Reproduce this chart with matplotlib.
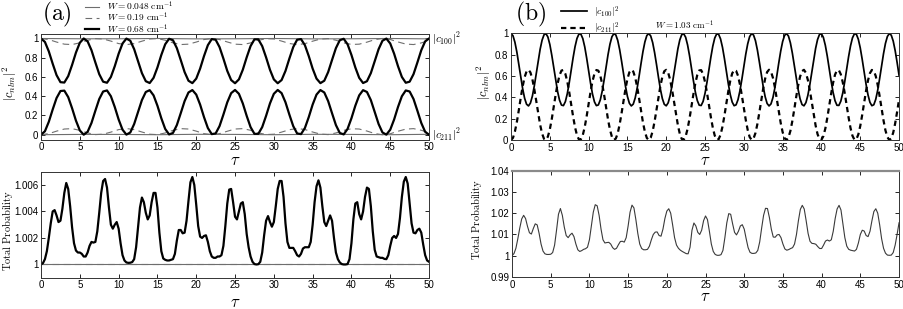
import numpy as np
import matplotlib
matplotlib.use("Agg")
import matplotlib.pyplot as plt
from matplotlib.ticker import FormatStrFormatter
from matplotlib.transforms import blended_transform_factory

plt.rcParams['font.family'] = ['Liberation Sans', 'DejaVu Sans']
plt.rcParams['mathtext.fontset'] = 'cm'

# sample times (tau)
tau_q = np.linspace(0, 50, 201)   # every 0.25
tau_h = np.linspace(0, 50, 101)   # every 0.5
tau_1 = np.linspace(0, 50, 51)    # every 1
tau_5 = np.linspace(0, 50, 11)    # every 5

# ---- panel (a), top: |c100|^2 (upper) and |c211|^2 (lower) ----
a_up_thick = [1.000, 0.964, 0.866, 0.738, 0.619, 0.546, 0.542, 0.609, 0.725, 0.854,
              0.956, 1.000, 0.970, 0.878, 0.751, 0.629, 0.551, 0.540, 0.600, 0.712,
              0.842, 0.948, 0.999, 0.977, 0.889, 0.764, 0.640, 0.556, 0.537, 0.591,
              0.699, 0.829, 0.940, 0.997, 0.982, 0.900, 0.777, 0.651, 0.561, 0.536,
              0.583, 0.687, 0.817, 0.931, 0.994, 0.987, 0.911, 0.791, 0.663, 0.568,
              0.535, 0.575, 0.675, 0.804, 0.921, 0.991, 0.991, 0.921, 0.804, 0.675,
              0.575, 0.535, 0.568, 0.663, 0.791, 0.911, 0.987, 0.994, 0.931, 0.817,
              0.687, 0.583, 0.536, 0.561, 0.651, 0.777, 0.900, 0.982, 0.997, 0.940,
              0.829, 0.699, 0.591, 0.537, 0.556, 0.640, 0.764, 0.889, 0.977, 0.999,
              0.948, 0.842, 0.712, 0.600, 0.540, 0.551, 0.629, 0.751, 0.878, 0.970,
              1.000]
a_low_thick = [0.000, 0.036, 0.134, 0.262, 0.381, 0.454, 0.458, 0.391, 0.275, 0.146,
               0.044, 0.000, 0.030, 0.122, 0.249, 0.371, 0.449, 0.460, 0.400, 0.288,
               0.158, 0.052, 0.001, 0.023, 0.111, 0.236, 0.360, 0.444, 0.463, 0.409,
               0.301, 0.171, 0.060, 0.003, 0.018, 0.100, 0.223, 0.349, 0.439, 0.464,
               0.417, 0.313, 0.183, 0.069, 0.006, 0.013, 0.089, 0.209, 0.337, 0.432,
               0.465, 0.425, 0.325, 0.196, 0.079, 0.009, 0.009, 0.079, 0.196, 0.325,
               0.425, 0.465, 0.432, 0.337, 0.209, 0.089, 0.013, 0.006, 0.069, 0.183,
               0.313, 0.417, 0.464, 0.439, 0.349, 0.223, 0.100, 0.018, 0.003, 0.060,
               0.171, 0.301, 0.409, 0.463, 0.444, 0.360, 0.236, 0.111, 0.023, 0.001,
               0.052, 0.158, 0.288, 0.400, 0.460, 0.449, 0.371, 0.249, 0.122, 0.030,
               0.000]
a_up_dash = [1.000, 0.989, 0.963, 0.941, 0.937, 0.955, 0.981, 0.999, 0.995, 0.973,
             0.947, 0.936, 0.947, 0.972, 0.995, 0.999, 0.982, 0.955, 0.937, 0.941,
             0.963, 0.989, 1.000, 0.989, 0.964, 0.941, 0.937, 0.954, 0.981, 0.998,
             0.995, 0.973, 0.948, 0.936, 0.946, 0.972, 0.994, 0.999, 0.982, 0.955,
             0.938, 0.941, 0.962, 0.988, 1.000, 0.990, 0.964, 0.942, 0.937, 0.954,
             0.980]
a_low_dash = [0.000, 0.011, 0.037, 0.059, 0.063, 0.045, 0.019, 0.001, 0.005, 0.027,
              0.053, 0.064, 0.053, 0.028, 0.005, 0.001, 0.018, 0.045, 0.063, 0.059,
              0.037, 0.011, 0.000, 0.011, 0.036, 0.059, 0.063, 0.046, 0.019, 0.002,
              0.005, 0.027, 0.052, 0.064, 0.054, 0.028, 0.006, 0.001, 0.018, 0.045,
              0.062, 0.059, 0.038, 0.012, 0.000, 0.010, 0.036, 0.058, 0.063, 0.046,
              0.020]
a_up_thin = [1.000, 0.997, 0.997, 1.000, 0.996, 0.997, 1.000, 0.996, 0.997, 1.000, 0.996]
a_low_thin = [0.000, 0.003, 0.003, 0.000, 0.004, 0.003, 0.000, 0.004, 0.003, 0.000, 0.004]

# ---- panel (a), bottom: total probability, excess over 1 in units of 1e-4 ----
a_tot_thick = [0, 1, 4, 10, 20, 31, 40, 41, 37, 32, 33, 42, 54, 61.5, 57, 44,
               28, 16, 10.5, 9, 9, 8, 6, 6, 9, 14, 17, 16.5, 17, 25, 39, 54,
               63, 64.5, 58, 43, 30, 27, 30, 32, 27, 16, 7, 3, 1.5, 1.2, 1.3, 1.8,
               4, 13, 28, 43, 50.5, 47, 39, 34, 37, 47, 54, 54, 43, 24, 10, 4.5,
               3.5, 3, 3, 3.5, 4, 8, 18, 26, 26, 23.5, 24, 33, 48, 62, 66, 60,
               45, 29, 21, 20, 21.5, 22, 17, 10, 6, 5, 5, 6, 6, 7, 14, 29,
               46, 56.5, 57, 47, 36, 34, 40, 46, 47, 38, 23, 13, 6, 2, 0.3, 0,
               0.2, 2, 9, 22, 33, 36.5, 32, 28.5, 32, 44, 57, 63, 63, 51, 31, 17,
               12.5, 12.5, 12.5, 10, 7, 6, 8, 12, 13, 13, 13, 17, 30, 47, 59, 63.5,
               58, 44, 32, 29, 33, 37, 33, 20, 9, 4, 1.5, 0.3, 0, 0, 0.3, 4,
               16, 34, 46, 47, 38, 34, 40, 51, 58, 57, 44, 25, 11, 6, 5.5, 5,
               5, 4.2, 4, 7, 14, 20, 21.5, 20, 23, 35, 51, 62.5, 66, 61, 46, 31,
               24, 23.5, 26, 27, 24, 15, 7, 3, 2]
a_tot_dash = [1.0, 1.0, 1.0, 1.0, 1.0, 1.0, 1.0, 1.0, 1.0, 1.0, 1.0]
a_tot_thin = [1.0, 1.0, 1.0, 1.0, 1.0, 1.0, 1.0, 1.0, 1.0, 1.0, 1.0]

# ---- panel (b), top ----
b_c100 = [1.000, 0.979, 0.918, 0.826, 0.712, 0.592, 0.481, 0.392, 0.336, 0.320,
          0.347, 0.412, 0.508, 0.623, 0.743, 0.852, 0.937, 0.988, 0.999, 0.967,
          0.897, 0.797, 0.681, 0.562, 0.455, 0.374, 0.328, 0.323, 0.360, 0.435,
          0.537, 0.655, 0.773, 0.877, 0.954, 0.995, 0.994, 0.952, 0.874, 0.768,
          0.650, 0.532, 0.431, 0.358, 0.323, 0.329, 0.376, 0.459, 0.566, 0.686,
          0.802, 0.900, 0.969, 0.999, 0.987, 0.935, 0.848, 0.738, 0.619, 0.504,
          0.409, 0.345, 0.320, 0.337, 0.395, 0.485, 0.597, 0.717, 0.830, 0.921,
          0.981, 1.000, 0.977, 0.915, 0.821, 0.708, 0.588, 0.477, 0.389, 0.335,
          0.321, 0.349, 0.416, 0.513, 0.628, 0.747, 0.856, 0.940, 0.989, 0.998,
          0.965, 0.893, 0.793, 0.676, 0.558, 0.451, 0.371, 0.327, 0.324, 0.362,
          0.438, 0.541, 0.659, 0.777, 0.881, 0.957, 0.996, 0.993, 0.949, 0.870,
          0.764, 0.645, 0.528, 0.427, 0.356, 0.322, 0.330, 0.379, 0.463, 0.571,
          0.691, 0.806, 0.903, 0.971, 0.999, 0.986, 0.932, 0.844, 0.733, 0.614,
          0.500, 0.406, 0.343, 0.320, 0.339, 0.398, 0.489, 0.602, 0.722, 0.834,
          0.924, 0.982, 1.000, 0.976, 0.912, 0.817, 0.703, 0.583, 0.473, 0.386,
          0.333, 0.321, 0.351, 0.419, 0.517, 0.633, 0.752, 0.860, 0.943, 0.991,
          0.998, 0.963, 0.890, 0.789, 0.672, 0.553, 0.448, 0.369, 0.326, 0.325,
          0.365, 0.442, 0.546, 0.664, 0.782, 0.884, 0.959, 0.997, 0.993, 0.947,
          0.866, 0.759, 0.640, 0.524, 0.424, 0.354, 0.322, 0.331, 0.382, 0.467,
          0.576, 0.695, 0.810, 0.907, 0.972, 1.000, 0.984, 0.929, 0.840, 0.729,
          0.609]
b_c211 = [0.000, 0.020, 0.080, 0.169, 0.279, 0.396, 0.504, 0.590, 0.644, 0.660,
          0.634, 0.571, 0.477, 0.366, 0.249, 0.144, 0.061, 0.011, 0.001, 0.032,
          0.100, 0.197, 0.310, 0.425, 0.529, 0.608, 0.652, 0.657, 0.621, 0.549,
          0.449, 0.335, 0.220, 0.119, 0.044, 0.005, 0.006, 0.047, 0.123, 0.225,
          0.340, 0.454, 0.552, 0.623, 0.657, 0.651, 0.605, 0.525, 0.421, 0.305,
          0.192, 0.097, 0.030, 0.001, 0.013, 0.063, 0.148, 0.254, 0.370, 0.481,
          0.574, 0.636, 0.660, 0.643, 0.587, 0.500, 0.391, 0.275, 0.165, 0.077,
          0.019, 0.000, 0.022, 0.083, 0.174, 0.284, 0.400, 0.508, 0.593, 0.646,
          0.659, 0.632, 0.567, 0.473, 0.361, 0.245, 0.140, 0.058, 0.010, 0.002,
          0.034, 0.104, 0.201, 0.314, 0.429, 0.533, 0.610, 0.653, 0.656, 0.619,
          0.545, 0.445, 0.331, 0.216, 0.116, 0.042, 0.004, 0.007, 0.049, 0.126,
          0.229, 0.345, 0.458, 0.556, 0.625, 0.658, 0.650, 0.603, 0.521, 0.416,
          0.300, 0.188, 0.094, 0.028, 0.001, 0.014, 0.066, 0.151, 0.259, 0.375,
          0.485, 0.577, 0.638, 0.660, 0.642, 0.584, 0.496, 0.386, 0.270, 0.161,
          0.074, 0.017, 0.000, 0.024, 0.085, 0.178, 0.288, 0.405, 0.512, 0.596,
          0.647, 0.659, 0.630, 0.564, 0.469, 0.356, 0.241, 0.136, 0.055, 0.009,
          0.002, 0.036, 0.107, 0.205, 0.319, 0.434, 0.536, 0.613, 0.654, 0.655,
          0.616, 0.542, 0.441, 0.326, 0.212, 0.112, 0.040, 0.003, 0.007, 0.051,
          0.130, 0.234, 0.349, 0.462, 0.559, 0.627, 0.658, 0.649, 0.600, 0.517,
          0.412, 0.296, 0.184, 0.090, 0.027, 0.000, 0.015, 0.069, 0.155, 0.263,
          0.380]

# ---- panel (b), bottom: total probability, excess over 1 in units of 1e-3 ----
b_tot = [0.0, 1.0, 3.5, 8.0, 13.0, 17.3, 19.0, 17.5, 13.8, 10.8, 10.2, 12.8,
         15.0, 14.5, 10.5, 5.5, 2.2, 0.9, 0.6, 0.6, 0.7, 1.5, 5.0, 12.0,
         19.5, 22.2, 19.0, 13.5, 9.5, 8.5, 9.8, 10.6, 9.0, 5.5, 2.8, 2.0,
         2.4, 3.0, 3.3, 4.0, 7.5, 14.0, 20.5, 24.0, 23.5, 19.0, 12.5, 7.5,
         6.0, 6.2, 6.3, 5.5, 3.8, 3.0, 3.5, 5.2, 6.7, 6.8, 6.4, 8.5,
         14.0, 20.5, 23.8, 22.5, 17.0, 10.5, 5.5, 3.4, 2.8, 2.8, 3.0, 4.5,
         7.5, 10.0, 11.1, 11.2, 9.5, 9.2, 12.5, 17.5, 21.0, 22.1, 20.0, 14.5,
         8.5, 5.0, 3.5, 2.6, 2.0, 1.5, 1.0, 0.9, 4.0, 12.0, 15.4, 14.0,
         11.0, 10.0, 12.0, 16.5, 18.7, 17.0, 11.5, 5.5, 2.0, 0.6, 0.2, 0.2,
         0.5, 2.5, 8.5, 15.5, 19.8, 19.5, 15.0, 11.0, 9.8, 11.5, 14.0, 14.6,
         12.5, 8.0, 3.8, 1.6, 1.1, 1.1, 1.3, 2.5, 6.5, 13.0, 19.0, 22.3,
         22.2, 18.0, 12.5, 8.8, 8.7, 9.8, 10.0, 8.5, 5.5, 3.2, 2.6, 2.9,
         3.4, 3.8, 5.5, 10.0, 16.5, 21.8, 23.7, 22.0, 16.5, 10.5, 6.8, 5.8,
         5.7, 5.4, 4.3, 3.4, 3.4, 5.0, 6.9, 7.4, 6.9, 7.5, 11.5, 17.5,
         22.0, 23.7, 21.5, 15.0, 8.5, 4.5, 3.0, 2.6, 2.4, 2.2, 3.0, 6.0,
         10.0, 12.0, 11.6, 9.5, 9.0, 11.5, 16.5, 20.8, 22.1, 20.0, 14.5, 8.0,
         3.5, 1.2, 0.3, 0.2, 0.3, 1.5, 5.0, 10.0, 15.5]

GRAY = '#6e6e6e'


def style(ax):
    ax.set_xlim(0, 50)
    ax.set_xticks(range(0, 51, 5))
    ax.tick_params(direction='in', top=True, right=True, length=3, width=0.6,
                   labelsize=7, pad=2)
    ax.xaxis.set_major_formatter(FormatStrFormatter('%g'))
    ax.yaxis.set_major_formatter(FormatStrFormatter('%g'))
    for s in ax.spines.values():
        s.set_linewidth(0.7)
        s.set_color('#333333')


fig = plt.figure(figsize=(9.04, 3.09), dpi=100)
axA1 = fig.add_axes([0.0454, 0.5485, 0.4292, 0.3425])
axA2 = fig.add_axes([0.0454, 0.1013, 0.4292, 0.3430])
axB1 = fig.add_axes([0.5653, 0.5469, 0.4292, 0.3447])
axB2 = fig.add_axes([0.5664, 0.1036, 0.4281, 0.3440])

# (a) top
l_thin, = axA1.plot(tau_5, a_up_thin, color=GRAY, lw=0.8,
                    label=r'$W = 0.048\ \mathrm{cm}^{-1}$')
axA1.plot(tau_5, a_low_thin, color=GRAY, lw=0.8)
l_dash, = axA1.plot(tau_1, a_up_dash, color=GRAY, lw=0.8, dashes=(6, 4),
                    label=r'$W = 0.19\ \mathrm{cm}^{-1}$')
axA1.plot(tau_1, a_low_dash, color=GRAY, lw=0.8, dashes=(6, 4))
l_thick, = axA1.plot(tau_h, a_up_thick, color='black', lw=1.6,
                     label=r'$W = 0.68\ \mathrm{cm}^{-1}$')
axA1.plot(tau_h, a_low_thick, color='black', lw=1.6)
style(axA1)
axA1.set_ylim(-0.05, 1.05)
axA1.set_yticks([0, 0.2, 0.4, 0.6, 0.8, 1])
axA1.set_xlabel(r'$\tau$', fontsize=12)
axA1.xaxis.set_label_coords(0.5, -0.13)
axA1.set_ylabel(r'$|c_{nlm}|^2$', fontsize=9)
axA1.yaxis.set_label_coords(-0.058, 0.53)
axA1.legend(handles=[l_thin, l_dash, l_thick], loc='upper left',
            bbox_to_anchor=(85 / 904, 1.0), bbox_transform=fig.transFigure,
            fontsize=6.8, frameon=False, handlelength=1.5, handletextpad=0.8,
            labelspacing=-0.25, borderpad=0, borderaxespad=0)
trA = blended_transform_factory(axA1.transAxes, axA1.transData)
axA1.text(1.008, 1.0, r'$|c_{100}|^2$', transform=trA, fontsize=8, va='center')
axA1.text(1.008, 0.0, r'$|c_{211}|^2$', transform=trA, fontsize=8, va='center')

# (a) bottom
axA2.plot(tau_5, a_tot_thin, color=GRAY, lw=0.8)
axA2.plot(tau_5, a_tot_dash, color=GRAY, lw=0.8, dashes=(6, 4))
axA2.plot(tau_q, 1 + np.array(a_tot_thick) * 1e-4, color='black', lw=1.6)
style(axA2)
axA2.set_ylim(0.999, 1.007)
axA2.set_yticks([1, 1.002, 1.004, 1.006])
axA2.set_xlabel(r'$\tau$', fontsize=12)
axA2.xaxis.set_label_coords(0.5, -0.16)
axA2.set_ylabel(r'$\mathrm{Total\ Probability}$', fontsize=7.5)
axA2.yaxis.set_label_coords(-0.066, 0.45)

# (b) top
l_100, = axB1.plot(tau_q, b_c100, color='black', lw=1.25, label=r'$|c_{100}|^2$')
l_211, = axB1.plot(tau_q, b_c211, color='black', lw=1.6, dashes=(2.4, 1.8),
                   label=r'$|c_{211}|^2$')
style(axB1)
axB1.set_ylim(0, 1)
axB1.set_yticks([0, 0.2, 0.4, 0.6, 0.8, 1])
axB1.set_xlabel(r'$\tau$', fontsize=12)
axB1.xaxis.set_label_coords(0.5, -0.125)
axB1.set_ylabel(r'$|c_{nlm}|^2$', fontsize=9)
axB1.yaxis.set_label_coords(-0.046, 0.545)
axB1.legend(handles=[l_100, l_211], loc='upper left',
            bbox_to_anchor=(561 / 904, 1 - 4 / 309), bbox_transform=fig.transFigure,
            fontsize=7, frameon=False, handlelength=2.7, handletextpad=0.7,
            labelspacing=0.15, borderpad=0, borderaxespad=0)
axB1.text(0.371, 1.08, r'$W = 1.03\ \mathrm{cm}^{-1}$', transform=axB1.transAxes,
          fontsize=6.5, va='center')

# (b) bottom
axB2.plot(tau_q, 1 + np.array(b_tot) * 1e-3, color='#3a3a3a', lw=0.8)
style(axB2)
axB2.spines['top'].set_linewidth(1.6)
axB2.spines['top'].set_color('#8a8a8a')
axB2.set_ylim(0.99, 1.04)
axB2.set_yticks([0.99, 1, 1.01, 1.02, 1.03, 1.04])
axB2.set_xlabel(r'$\tau$', fontsize=12)
axB2.xaxis.set_label_coords(0.5, -0.11)
axB2.set_ylabel(r'$\mathrm{Total\ Probability}$', fontsize=7.5)
axB2.yaxis.set_label_coords(-0.072, 0.545)

fig.text(42 / 904, 1 - 14 / 309, r'$\mathrm{(a)}$', fontsize=17, va='center', ha='left')
fig.text(515 / 904, 1 - 14 / 309, r'$\mathrm{(b)}$', fontsize=17, va='center', ha='left')

fig.savefig('out.png', dpi=100)
